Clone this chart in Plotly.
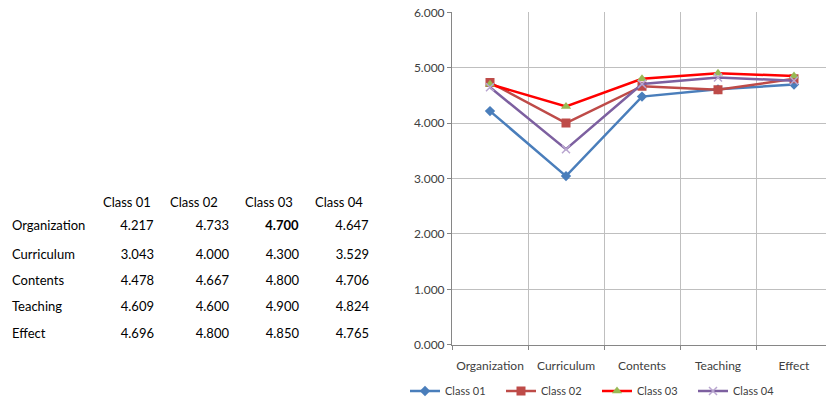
import plotly.graph_objects as go

# Survey dimensions and mean scores per class
categories = ["Organization", "Curriculum", "Contents", "Teaching", "Effect"]
class_names = ["Class 01", "Class 02", "Class 03", "Class 04"]
class_01 = [4.217, 3.043, 4.478, 4.609, 4.696]
class_02 = [4.733, 4.000, 4.667, 4.600, 4.800]
class_03 = [4.700, 4.300, 4.800, 4.900, 4.850]
class_04 = [4.647, 3.529, 4.706, 4.824, 4.765]
y_ticks = [0, 1, 2, 3, 4, 5, 6]

series = [class_01, class_02, class_03, class_04]

W, H = 826, 399
FONT = "Lato"

fig = go.Figure()

# Data table on the left; the Class 03 / Organization cell is bold.
# Every cell of that first row carries markup so the row is laid out uniformly.
def style_row0(s, bold=False):
    return f"<b>{s}</b>" if bold else f"<span>{s}</span>"

label_col = [style_row0(c) if i == 0 else c for i, c in enumerate(categories)]
cell_cols = [label_col]
for name, vals in zip(class_names, series):
    col = []
    for i, v in enumerate(vals):
        s = f"{v:.3f}"
        if i == 0:
            s = style_row0(s, bold=(name == "Class 03"))
        col.append(s)
    cell_cols.append(col)

# non-breaking space keeps each header on one line
header_vals = [""] + [n.replace(" ", "\u00a0") for n in class_names]

fig.add_trace(go.Table(
    domain=dict(x=[4 / W, 377 / W], y=[0, 1 - 189 / H]),
    columnwidth=[91, 67, 75, 70, 70],
    header=dict(
        values=header_vals,
        align=["left", "left", "left", "left", "left"],
        fill_color="white",
        line=dict(color="white", width=0),
        font=dict(family=FONT, size=13, color="black"),
        height=20,
    ),
    cells=dict(
        values=cell_cols,
        align=["left", "right", "right", "right", "right"],
        fill_color="white",
        line=dict(color="white", width=0),
        font=dict(family=FONT, size=13, color="black"),
        height=26.3,
    ),
))

# Line series
styles = [
    dict(line=dict(color="#4a7ebb", width=2.5),
         marker=dict(symbol="diamond", size=8, color="#4a7ebb")),
    dict(line=dict(color="#be4b48", width=2.5),
         marker=dict(symbol="square", size=9, color="#be4b48")),
    dict(line=dict(color="#ff0000", width=2.5),
         marker=dict(symbol="triangle-up", size=9, color="#98b954")),
    dict(line=dict(color="#7d60a0", width=2.5),
         marker=dict(symbol="x-thin", size=8, color="#b9a6d0",
                     line=dict(color="#b9a6d0", width=1.5))),
]

x_idx = list(range(len(categories)))
for name, vals, st in zip(class_names, series, styles):
    fig.add_trace(go.Scatter(
        x=x_idx, y=vals, name=name, mode="lines+markers",
        line=st["line"], marker=st["marker"],
        xaxis="x", yaxis="y",
    ))

grid = "#bfbfbf"
axis_col = "#868686"

fig.update_layout(
    width=W, height=H,
    margin=dict(l=0, r=0, t=0, b=0, autoexpand=False),
    paper_bgcolor="white",
    plot_bgcolor="white",
    font=dict(family=FONT, size=11, color="#404040"),
    xaxis=dict(
        domain=[452 / W, 1],
        range=[-0.5, 4.5 - 6 / 76],
        tickvals=x_idx,
        ticktext=categories,
        showgrid=False,
        ticks="",
        ticklabelstandoff=10,
        showline=True, linecolor=axis_col, linewidth=1,
        zeroline=False,
        tickfont=dict(family=FONT, size=12, color="#404040"),
        minor=dict(
            tickvals=[i - 0.5 for i in range(len(categories) + 1)],
            showgrid=True, gridcolor=grid, gridwidth=1,
            ticks="outside", ticklen=4, tickcolor=axis_col,
        ),
        automargin=False,
    ),
    yaxis=dict(
        domain=[1 - 344.7 / H, 1 - 12.3 / H],
        range=[0, 6],
        tickvals=y_ticks,
        ticktext=[f"{v:.3f}" for v in y_ticks],
        showgrid=True, gridcolor=grid, gridwidth=1,
        ticks="outside", ticklen=4, tickcolor=axis_col,
        showline=True, linecolor=axis_col, linewidth=1,
        zeroline=False,
        tickfont=dict(family=FONT, size=12, color="#404040"),
        automargin=False,
    ),
    showlegend=True,
    legend=dict(
        orientation="h",
        x=405 / W, xanchor="left",
        y=1 - 391 / H, yanchor="middle",
        entrywidth=51, entrywidthmode="pixels",
        font=dict(family=FONT, size=11, color="#404040"),
        bgcolor="rgba(0,0,0,0)",
        itemclick=False,
    ),
)

fig.write_html("out.html")
